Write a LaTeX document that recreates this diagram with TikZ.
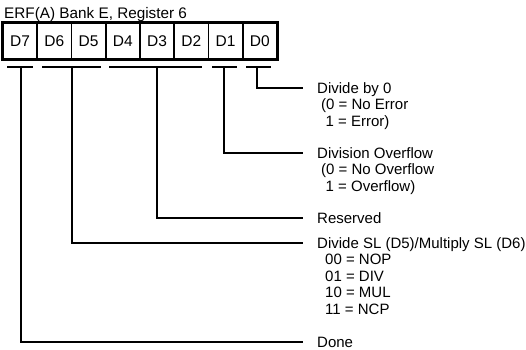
\documentclass[tikz,border=0pt]{standalone}
\usepackage{fontspec}
\setmainfont{Liberation Sans}
\begin{document}
\begin{tikzpicture}[x=1pt,y=-1pt,
  lbl/.style={anchor=west,inner sep=0pt,text height=10.5pt,text depth=0pt,font=\fontsize{15}{16.5}\selectfont},
  cell/.style={draw,line width=1.8pt,minimum width=34.25pt,minimum height=36pt,inner sep=0pt,font=\fontsize{15.5}{17}\selectfont},
  bar/.style={line width=2.6pt},
  conn/.style={line width=2.1pt}]
\useasboundingbox[fill=white] (0,0) rectangle (526,349);
% title
\node[lbl,font=\fontsize{15.3}{17}\selectfont] (title) at (4,13) {ERF(A) Bank E, Register 6};
% register cells
\foreach \n [count=\i from 0] in {7,6,5,4,3,2,1,0}
  \node[cell] (d\n) at ({3+34.25*(\i+0.5)},41) {D\n};
\draw[line width=2.8pt] (d7.north west) rectangle (d0.south east);
% bus bars
\coordinate (b7l) at (7,67);   \coordinate (b7r) at (33,67);
\coordinate (b65l) at (42,67); \coordinate (b65r) at (101,67);
\coordinate (b42l) at (109,67);\coordinate (b42r) at (202,67);
\coordinate (b1l) at (212,67); \coordinate (b1r) at (237,67);
\coordinate (b0l) at (246,67); \coordinate (b0r) at (271,67);
\foreach \b in {b7,b65,b42,b1,b0} \draw[bar] (\b l) -- (\b r);
\coordinate (t7) at (21,67);
\coordinate (t65) at (72,67);
\coordinate (t42) at (157,67);
\coordinate (t1) at (224,67);
\coordinate (t0) at (257,67);
% labels
\node[lbl] (l0) at (317,88) {Divide by 0};
\node[lbl] (l0a) at (321,104.5) {(0 = No Error};
\node[lbl] (l0b) at (325.5,121) {1 = Error)};
\node[lbl] (l1) at (317,153) {Division Overflow};
\node[lbl] (l1a) at (321,169.5) {(0 = No Overflow};
\node[lbl] (l1b) at (325.5,186) {1 = Overflow)};
\node[lbl] (l42) at (317,218) {Reserved};
\node[lbl] (l65) at (317,243) {Divide SL (D5)/Multiply SL (D6)};
\node[lbl] (l65a) at (325,259.5) {00 = NOP};
\node[lbl] (l65b) at (325,276) {01 = DIV};
\node[lbl] (l65c) at (325,292.5) {10 = MUL};
\node[lbl] (l65d) at (325,309) {11 = NCP};
\node[lbl] (l7) at (317,342) {Done};
% connectors
\foreach \k in {0,1,42,65,7}
  \draw[conn] (t\k) |- ([xshift=-14pt]l\k.west);
\end{tikzpicture}
\end{document}
